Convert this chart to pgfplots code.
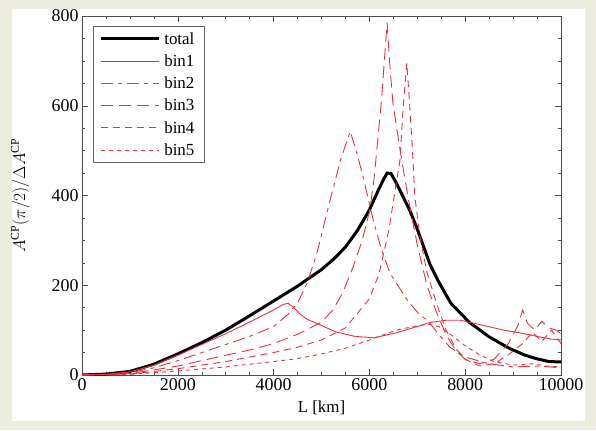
\documentclass[border=0pt]{standalone}
\usepackage{fontspec}
\setmainfont{Liberation Serif}
\usepackage{pgfplots}
\pgfplotsset{compat=1.18}
\definecolor{bg}{RGB}{236,236,224}
\definecolor{binred}{RGB}{232,50,65}
\begin{document}
\begin{tikzpicture}[x=1bp,y=1bp]
\fill[bg] (0,0) rectangle (596,430);
\fill[white] (12,9) rectangle (585,421);
\begin{axis}[
  at={(82bp,55bp)}, anchor=south west,
  scale only axis, width=479bp, height=359bp,
  xmin=0, xmax=10000, ymin=0, ymax=800,
  xtick={0,2000,4000,6000,8000,10000},
  ytick={0,200,400,600,800},
  minor x tick num=3, minor y tick num=3,
  scaled x ticks=false,
  axis line style={black!70, line width=0.6bp},
  major tick length=6bp, minor tick length=3bp,
  tick style={black!70, line width=0.5bp},
  tick align=inside,
  /pgf/number format/1000 sep={},
  /pgf/number format/assume math mode=true,
  tick label style={font=\fontsize{18}{20}\selectfont},
  xlabel={L [km]},
  ylabel={$A^{\mathrm{CP}}(\pi/2)/\Delta A^{\mathrm{CP}}$},
  xlabel style={at={(axis description cs:0.5,-0.092)}, anchor=center, font=\fontsize{17}{19}\selectfont},
  ylabel style={at={(axis description cs:-0.129,0.5)}, anchor=center, font=\fontsize{17}{19}\selectfont},
  legend cell align=left,
  legend style={at={(0.023,0.972)}, anchor=north west, draw=black!60, line width=0.6bp,
    font=\fontsize{17}{19}\selectfont, row sep=5bp, inner xsep=6bp, inner ysep=4bp,
    nodes={inner xsep=4bp}},
  legend image code/.code={\draw[#1] (0bp,0bp) -- (58bp,0bp);},
]
\addplot[black, line width=3bp] coordinates {
(0,0)(500,2)(1000,8)(1500,24)(2000,47)(2500,72)(3000,100)(3500,132)(4000,165)(4500,198)(5000,235)(5250,258)(5500,285)(5750,322)(6000,368)(6200,415)(6300,437)(6370,450)(6450,449)(6550,430)(6700,398)(6850,365)(7000,325)(7270,245)(7450,207)(7700,160)(8080,118)(8500,85)(8910,60)(9250,44)(9500,36)(9750,30)(10000,29)};
\addlegendentry{total}
\addplot[binred, line width=0.9bp] coordinates {
(0,0)(500,1.5)(1000,7)(1500,22)(2000,44)(2500,68)(3000,92)(3500,118)(4000,145)(4200,157)(4300,160)(4400,152)(4550,136)(4700,124)(4900,115)(5300,96)(5700,86)(6100,83)(6560,94)(7000,108)(7260,117)(7600,122)(7900,122)(8200,115)(8520,107)(8800,100)(9140,94)(9500,86)(9800,80)(10000,78)};
\addlegendentry{bin1}
\addplot[binred, line width=0.9bp, dash pattern=on 12bp off 5bp on 4bp off 5bp] coordinates {
(0,0)(500,1)(1000,5)(1500,16)(2000,32)(2500,50)(3000,68)(3500,86)(4000,108)(4300,135)(4500,160)(4700,205)(4900,270)(5180,390)(5400,480)(5600,543)(5750,490)(5870,441)(6080,345)(6250,280)(6430,227)(6790,167)(7000,140)(7260,116)(7450,90)(7680,62)(8000,40)(8500,25)(9000,18)(9500,20)(10000,16)};
\addlegendentry{bin2}
\addplot[binred, line width=0.9bp, dash pattern=on 12bp off 6bp] coordinates {
(0,0)(1000,3)(2000,20)(2500,32)(3000,44)(3510,56)(4000,70)(4550,93)(5000,118)(5240,145)(5450,185)(5660,241)(5850,300)(6010,368)(6100,440)(6250,610)(6370,785)(6420,700)(6490,606)(6640,501)(6800,400)(7000,290)(7200,200)(7400,140)(7600,90)(7800,55)(8000,35)(8300,25)(8600,35)(8900,70)(9100,110)(9200,145)(9300,115)(9450,100)(9600,120)(9750,105)(9900,100)(10000,92)};
\addlegendentry{bin3}
\addplot[binred, line width=0.9bp, dash pattern=on 7bp off 5bp] coordinates {
(0,0)(1000,2)(2000,14)(3000,30)(4000,50)(4500,62)(5000,78)(5500,105)(6000,170)(6200,225)(6400,320)(6550,420)(6640,480)(6700,590)(6780,695)(6830,620)(6890,517)(6950,397)(7050,310)(7200,230)(7400,160)(7600,100)(7800,60)(8000,35)(8300,20)(8600,25)(8900,45)(9200,70)(9400,95)(9600,75)(9800,100)(10000,70)};
\addlegendentry{bin4}
\addplot[binred, line width=0.9bp, dash pattern=on 4bp off 4bp] coordinates {
(0,0)(1000,1.5)(2000,9)(3000,18)(4000,30)(4470,36)(5000,47)(5510,60)(6000,78)(6560,100)(7000,110)(7240,113)(7450,108)(7700,90)(8000,65)(8300,45)(8600,30)(9000,22)(9400,25)(9700,20)(10000,18)};
\addlegendentry{bin5}
\end{axis}
\useasboundingbox (0,0) rectangle (596,430);
\end{tikzpicture}
\end{document}
